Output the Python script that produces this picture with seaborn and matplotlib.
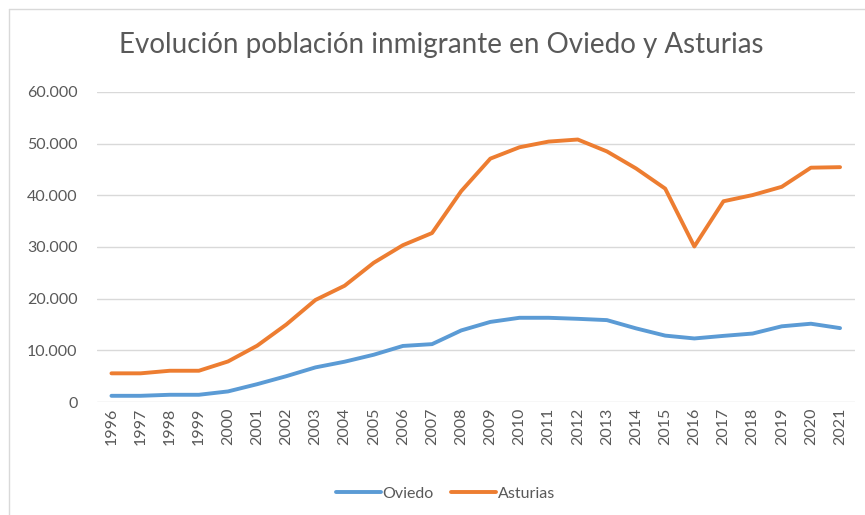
import numpy as np
import pandas as pd
import matplotlib
matplotlib.use("Agg")
import matplotlib.pyplot as plt
import matplotlib.ticker as ticker
from matplotlib.lines import Line2D
import seaborn as sns

# datos
years = [str(y) for y in range(1996, 2022)]
oviedo = [1200, 1200, 1400, 1400, 2050, 3450, 5000, 6700, 7800, 9150,
          10850, 11200, 13850, 15500, 16300, 16300, 16100, 15850, 14250,
          12850, 12300, 12800, 13250, 14650, 15150, 14300]
asturias = [5550, 5550, 6050, 6050, 7850, 10900, 15000, 19750, 22500, 26950,
            30350, 32700, 40800, 47100, 49300, 50400, 50800, 48500, 45200,
            41300, 30100, 38850, 40050, 41650, 45350, 45450]
series_names = ["Oviedo", "Asturias"]
colors = ["#5B9BD5", "#ED7D31"]

df = pd.DataFrame({"year": years, "Oviedo": oviedo, "Asturias": asturias})
df_long = df.melt(id_vars="year", var_name="serie", value_name="valor")

sns.set_theme(style="white")
plt.rcParams["font.family"] = ["Lato", "DejaVu Sans"]

fig = plt.figure(figsize=(8.65, 5.15), dpi=100)
ax = fig.add_axes([0.112, 0.2194, 0.876, 0.6020])

sns.lineplot(data=df_long, x="year", y="valor", hue="serie",
             hue_order=series_names, palette=colors, linewidth=2.8,
             sort=False, ax=ax)
for ln in ax.lines:
    ln.set_solid_capstyle("round")
    ln.set_solid_joinstyle("round")

ax.set_xlim(-0.5, len(years) - 0.5)
ax.set_ylim(0, 60000)
ax.yaxis.set_major_locator(ticker.MultipleLocator(10000))
ax.yaxis.set_major_formatter(ticker.FuncFormatter(
    lambda v, p: f"{int(v):,}".replace(",", ".")))
ax.grid(axis="y", color="#D9D9D9", linewidth=1)
ax.set_axisbelow(True)
for s in ax.spines.values():
    s.set_visible(False)
ax.tick_params(axis="y", length=0, pad=14, labelsize=11.5, labelcolor="#595959")
ax.tick_params(axis="x", length=0, pad=4, labelsize=11.5, labelcolor="#595959",
               labelrotation=90)
ax.set_xlabel("")
ax.set_ylabel("")

fig.text(0.51, 0.912, "Evolución población inmigrante en Oviedo y Asturias",
         ha="center", va="center", fontsize=20, color="#595959")

leg = ax.legend(loc="lower center", bbox_to_anchor=(0.46, -0.365), ncol=2,
                frameon=False, fontsize=11.5, handlelength=2.8,
                handletextpad=0.1, columnspacing=1.1, labelcolor="#595959")
for h in leg.get_lines():
    h.set_solid_capstyle("round")

# marco del grafico
fig.add_artist(Line2D([9 / 865, 9 / 865], [0, 1 - 9 / 515], color="#D9D9D9", lw=1))
fig.add_artist(Line2D([9 / 865, 1], [1 - 9 / 515, 1 - 9 / 515], color="#D9D9D9", lw=1))

fig.savefig("out.png", dpi=100)
